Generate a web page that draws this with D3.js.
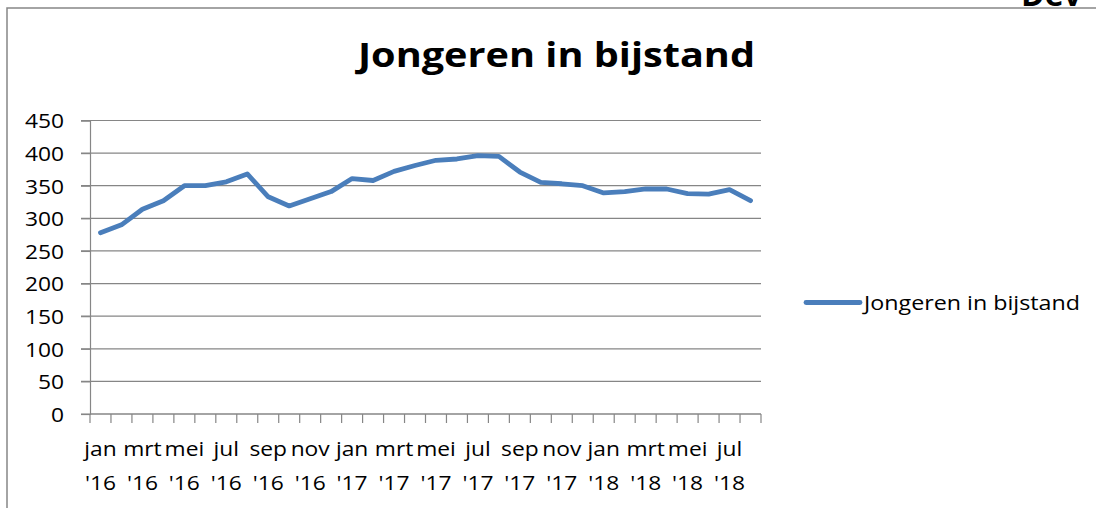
<!DOCTYPE html>
<html>
<head>
<meta charset="utf-8">
<title>Jongeren in bijstand</title>
<script src="https://cdn.jsdelivr.net/npm/d3@7"></script>
<style>
body { margin: 0; background: #fff; }
svg text { font-family: "Open Sans", Lato, sans-serif; fill: #000; }
</style>
</head>
<body>
<svg width="1096" height="508"></svg>
<script>

// maanden jan '16 t/m aug '18
var maanden = ["jan","feb","mrt","apr","mei","jun","jul","aug","sep","okt","nov","dec"];
var jaren = ["'16","'17","'18"];
var waarden = [278, 290, 314, 327, 350, 350, 356, 368, 333, 319, 330, 341,
               361, 358, 372, 381, 389, 391, 396, 395, 371, 355, 353, 350,
               339, 341, 345, 345, 338, 337, 344, 327];
var yTicks = [0, 50, 100, 150, 200, 250, 300, 350, 400, 450];
var reeksNaam = "Jongeren in bijstand";

var categorieen = waarden.map(function(d, i) {
  return { maand: maanden[i % 12], jaar: jaren[Math.floor(i / 12)], id: i };
});

var svg = d3.select("svg");
var grijs = "#868686";
var blauw = "#4a7ebb";
var rek = 1.14; // tekst is in het origineel iets breder

// rand van de grafiek
svg.append("rect")
  .attr("x", 7).attr("y", 8)
  .attr("width", 1100).attr("height", 520)
  .attr("fill", "none")
  .attr("stroke", grijs)
  .attr("stroke-width", 1.5);

// afgesneden tekst bovenaan
svg.append("text")
  .attr("x", 1021).attr("y", 6)
  .attr("font-size", 32)
  .attr("font-weight", "bold")
  .text("Dev");

var x = d3.scaleBand()
  .domain(categorieen.map(function(d) { return d.id; }))
  .range([90, 761]);

var y = d3.scaleLinear()
  .domain([0, 450])
  .range([414, 120.5]);

// titel
svg.append("text")
  .attr("x", 358).attr("y", 67)
  .attr("font-size", 34)
  .attr("font-weight", "bold")
  .attr("textLength", 397)
  .attr("lengthAdjust", "spacingAndGlyphs")
  .text("Jongeren in bijstand");

// rasterlijnen
svg.append("g").selectAll("line")
  .data(yTicks)
  .enter().append("line")
  .attr("x1", 81).attr("x2", 761)
  .attr("y1", function(d) { return y(d); })
  .attr("y2", function(d) { return y(d); })
  .attr("stroke", grijs)
  .attr("stroke-width", 1.2);

// y-as
var yAs = svg.append("g")
  .attr("transform", "translate(90,0)")
  .call(d3.axisLeft(y).tickValues(yTicks).tickSize(9));
yAs.select(".domain").attr("stroke", grijs).attr("stroke-width", 1.2);
yAs.selectAll(".tick line").attr("stroke", grijs).attr("stroke-width", 1.2);
yAs.selectAll(".tick text")
  .attr("x", 0).attr("dy", null).attr("y", 7.4)
  .attr("transform", "translate(-26,0) scale(" + rek + ",1)")
  .attr("font-size", 20)
  .attr("fill", "#000")
  .style("font-family", "'Open Sans', Lato, sans-serif");

// x-as
svg.append("line")
  .attr("x1", 90).attr("x2", 761)
  .attr("y1", 414).attr("y2", 414)
  .attr("stroke", grijs).attr("stroke-width", 1.2);

var grenzen = categorieen.map(function(d) { return x(d.id); }).concat([x.range()[1]]);
svg.append("g").selectAll("line")
  .data(grenzen)
  .enter().append("line")
  .attr("x1", function(d) { return d; })
  .attr("x2", function(d) { return d; })
  .attr("y1", 414).attr("y2", 423)
  .attr("stroke", grijs).attr("stroke-width", 1.2);

var labels = svg.append("g").selectAll("text")
  .data(categorieen.filter(function(d) { return d.id % 2 == 0; }))
  .enter().append("text")
  .attr("text-anchor", "middle")
  .attr("font-size", 20)
  .attr("transform", function(d) {
    return "translate(" + (x(d.id) + x.bandwidth() / 2) + ",0) scale(" + rek + ",1)";
  });
labels.append("tspan").attr("x", 0).attr("y", 456).text(function(d) { return d.maand; });
labels.append("tspan").attr("x", 0).attr("y", 490).text(function(d) { return d.jaar; });

// lijn
var lijn = d3.line()
  .x(function(d, i) { return x(i) + x.bandwidth() / 2; })
  .y(function(d) { return y(d); });

svg.append("path")
  .datum(waarden)
  .attr("d", lijn)
  .attr("fill", "none")
  .attr("stroke", blauw)
  .attr("stroke-width", 4.8)
  .attr("stroke-linejoin", "round")
  .attr("stroke-linecap", "round");

// legenda
svg.append("line")
  .attr("x1", 806).attr("x2", 860)
  .attr("y1", 302.5).attr("y2", 302.5)
  .attr("stroke", blauw)
  .attr("stroke-width", 4.8)
  .attr("stroke-linecap", "round");
svg.append("text")
  .attr("x", 864).attr("y", 310)
  .attr("font-size", 20)
  .attr("textLength", 216)
  .attr("lengthAdjust", "spacingAndGlyphs")
  .text(reeksNaam);

</script>
</body>
</html>
